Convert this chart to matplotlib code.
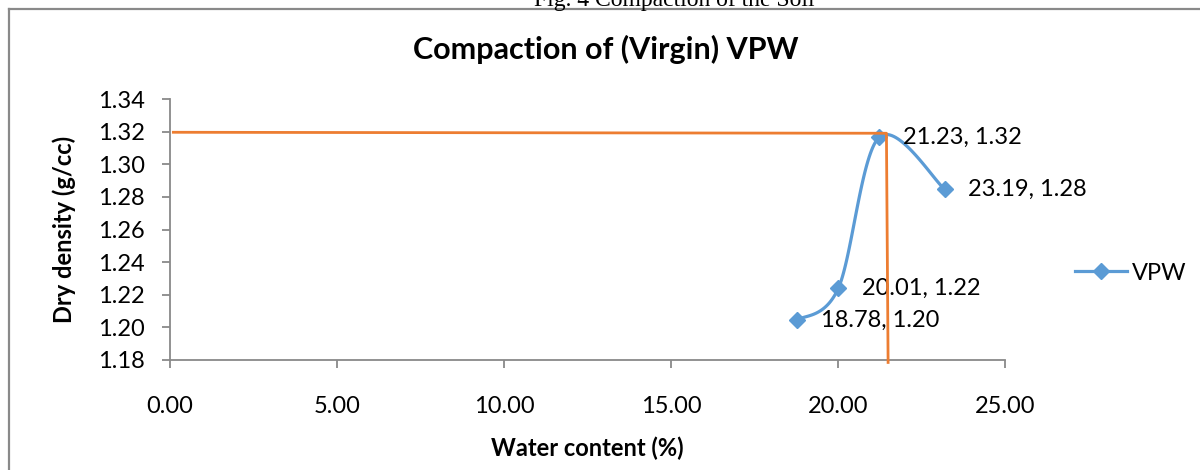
import numpy as np
import matplotlib
matplotlib.use("Agg")
import matplotlib.pyplot as plt
from matplotlib.lines import Line2D

# compaction test points (water content %, dry density g/cc)
water = [18.78, 20.01, 21.23, 23.19]
density = [1.2045, 1.2240, 1.3165, 1.2848]
series_name = "VPW"

# hand-drawn OMC / MDD guide line
guide_x = [0.1, 21.45, 21.50]
guide_y = [1.3196, 1.3190, 1.1785]

x_ticks = [0, 5, 10, 15, 20, 25]
y_ticks = [1.18, 1.20, 1.22, 1.24, 1.26, 1.28, 1.30, 1.32, 1.34]

BLUE = "#5B9BD5"
ORANGE = "#ED7D31"
GRAY = "#898989"
FONT = ["Lato", "DejaVu Sans"]


def excel_smooth(ax, xs, ys, n=40):
    # bezier smoothing done in display space, like the spreadsheet does it
    pts = ax.transData.transform(np.column_stack([xs, ys]))
    out = []
    for i in range(len(pts) - 1):
        p0 = pts[max(i - 1, 0)]
        p1 = pts[i]
        p2 = pts[i + 1]
        p3 = pts[min(i + 2, len(pts) - 1)]
        c1 = p1 + (p2 - p0) / 6
        c2 = p2 - (p3 - p1) / 6
        t = np.linspace(0, 1, n)[:, None]
        seg = ((1 - t) ** 3) * p1 + 3 * ((1 - t) ** 2) * t * c1 + 3 * (1 - t) * t ** 2 * c2 + t ** 3 * p2
        out.append(seg if i == 0 else seg[1:])
    curve = np.vstack(out)
    back = ax.transData.inverted().transform(curve)
    return back[:, 0], back[:, 1]


fig = plt.figure(figsize=(12, 4.7), dpi=100)
ax = fig.add_axes([170 / 1200, 110 / 470, 835 / 1200, 261 / 470])
ax.set_xlim(0, 25)
ax.set_ylim(1.18, 1.34)

sx, sy = excel_smooth(ax, water, density)
ax.plot(sx, sy, color=BLUE, lw=2.3, solid_capstyle="round", zorder=3)
ax.plot(water, density, ls="none", marker="D", ms=8, color=BLUE, zorder=4)

ax.plot(guide_x, guide_y, color=ORANGE, lw=2.0, clip_on=False, zorder=5)

for wx, dy in zip(water, density):
    ax.annotate(f"{wx:.2f}, {dy:.2f}", (wx, dy), xytext=(17, 0),
                textcoords="offset points", va="center", ha="left",
                fontsize=17, family=FONT, color="#000000")

ax.set_xticks(x_ticks)
ax.set_xticklabels([f"{v:.2f}" for v in x_ticks])
ax.set_yticks(y_ticks)
ax.set_yticklabels([f"{v:.2f}" for v in y_ticks])

for side in ["top", "right"]:
    ax.spines[side].set_visible(False)
for side in ["left", "bottom"]:
    ax.spines[side].set_color(GRAY)
    ax.spines[side].set_linewidth(1.3)
ax.tick_params(axis="both", direction="out", length=6, width=1.3, color=GRAY,
               labelsize=17, labelcolor="#000000")
ax.tick_params(axis="x", pad=20)
ax.tick_params(axis="y", pad=12)
for lab in ax.get_xticklabels() + ax.get_yticklabels():
    lab.set_family(FONT)

ax.set_xlabel("Water content (%)", fontsize=17, fontweight="bold", family=FONT, labelpad=14)
ax.set_ylabel("Dry density (g/cc)", fontsize=17, fontweight="bold", family=FONT, labelpad=16)

fig.text(0.505, 1 - 49 / 470, "Compaction of (Virgin) VPW", ha="center", va="center",
         fontsize=22, fontweight="bold", family=FONT)

handle = Line2D([], [], color=BLUE, lw=2.3, marker="D", ms=8)
fig.legend([handle], [series_name], loc="center left", bbox_to_anchor=(1066 / 1200, 1 - 273 / 470),
           frameon=False, prop={"family": FONT, "size": 17},
           handlelength=2.2, handletextpad=0.2, borderaxespad=0)

# chart frame (cut off on right and bottom) and the page caption above it
fig.add_artist(Line2D([9 / 1200, 9 / 1200], [0, 1 - 9 / 470], transform=fig.transFigure,
                      color=GRAY, lw=1.6))
fig.add_artist(Line2D([9 / 1200, 1], [1 - 9 / 470, 1 - 9 / 470], transform=fig.transFigure,
                      color=GRAY, lw=1.6))
fig.text(0.562, 1 - 6 / 470, "Fig. 4 Compaction of the Soil", ha="center", va="baseline",
         fontsize=17, family="Liberation Serif")

fig.savefig("out.png", dpi=100)
